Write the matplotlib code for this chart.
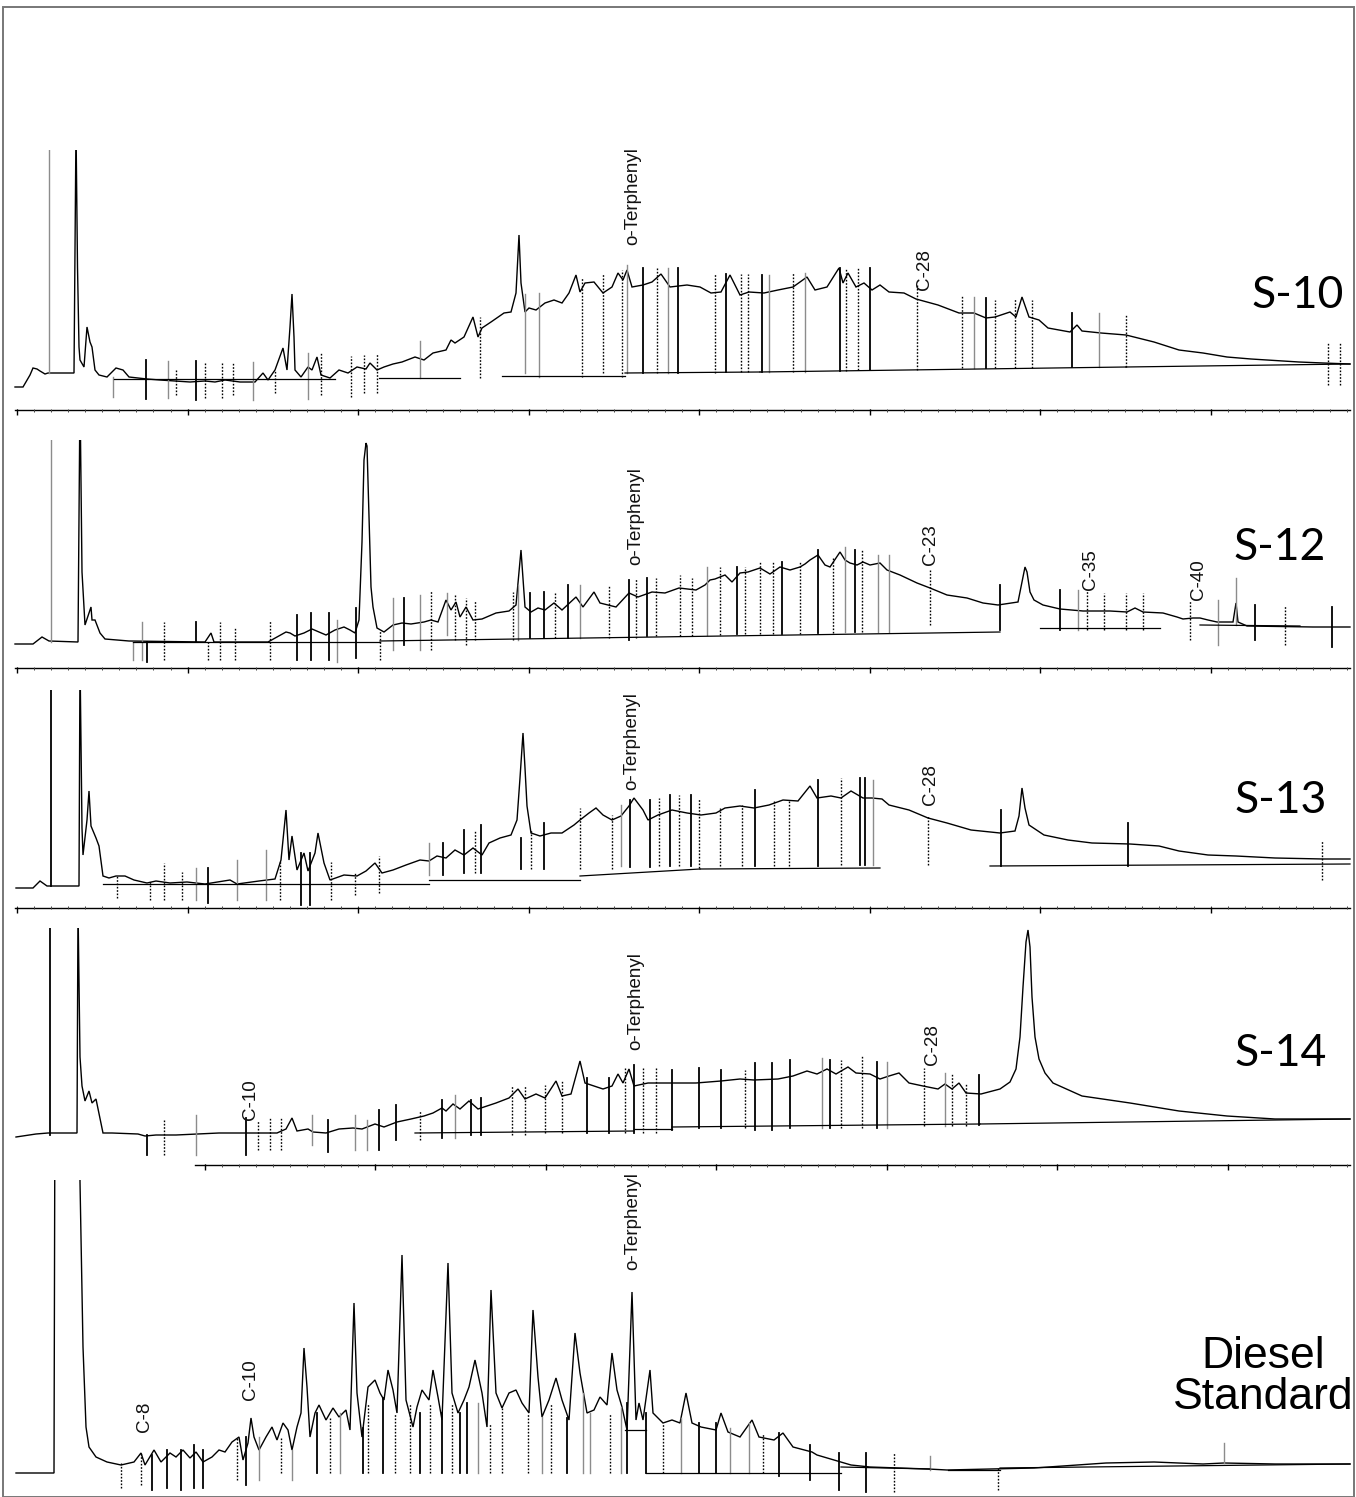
import numpy as np
import matplotlib.pyplot as plt
from matplotlib.patches import Rectangle

# ---- chromatogram traces: (retention position, detector response) ----
s10_trace = [(15, 0), (23, 0), (30, 12), (33, 19), (37, 18), (40, 16), (45, 13), (48, 14), (74, 14),
             (76, 260), (77.5, 120), (79, 40), (80, 27), (84, 20), (87, 60), (90, 45), (92, 40), (95, 17), (99, 12),
             (107, 10), (116, 19), (123, 17), (129, 10), (147, 8), (160, 7), (175, 6), (190, 5), (205, 6),
             (215, 5), (225, 7), (240, 5), (255, 5), (263, 14), (268, 7), (275, 17), (283, 39), (287, 17),
             (290, 60), (292, 93), (294, 50), (295, 17), (301, 10), (308, 20), (312, 17), (317, 30), (321, 12), (330, 9), (339, 17),
             (348, 14), (357, 20), (366, 18), (370, 24), (377, 17), (384, 20), (393, 23), (402, 25), (415, 30),
             (424, 27), (433, 34), (446, 37), (451, 47), (455, 44), (464, 50), (473, 70), (478, 50), (482, 59),
             (491, 65), (504, 74), (511, 75), (516, 94), (519, 152), (521, 104), (525, 75), (529, 79),
             (536, 77), (545, 84), (554, 87), (562, 84), (569, 94), (576, 112), (580, 95), (585, 104),
             (594, 105), (603, 94), (612, 100), (618, 114), (623, 107), (627, 117), (632, 100), (643, 102),
             (652, 105), (661, 113), (670, 100), (687, 102), (700, 100), (711, 94), (721, 95), (730, 112),
             (740, 92), (749, 95), (764, 94), (778, 97), (793, 100), (807, 110), (815, 97), (827, 100),
             (839, 119), (843, 104), (848, 114), (856, 100), (864, 104), (872, 97), (880, 102), (889, 95),
             (904, 94), (916, 88), (938, 82), (959, 74), (974, 74), (986, 69), (995, 70), (1010, 75),
             (1016, 70), (1022, 90), (1029, 70), (1039, 67), (1048, 59), (1070, 55), (1077, 62), (1082, 56),
             (1101, 54), (1126, 52), (1154, 45), (1179, 37), (1203, 34), (1227, 30), (1251, 28), (1299, 25),
             (1323, 24), (1350, 23)]

s12_trace = [(15, -2), (33, -2), (42, 5), (49, 1), (78, 0), (80, 250), (82, 70), (85, 17), (91, 35),
             (92, 22), (95, 22), (100, 9), (105, 3), (129, 1), (205, 0), (211, 9), (214, 0), (268, 0),
             (277, 5), (286, 10), (290, 9), (295, 6), (304, 9), (312, 13), (319, 10), (326, 7), (335, 12),
             (344, 15), (350, 12), (355, 9), (359, 22), (362, 100), (364, 182), (366, 199), (367, 196),
             (369, 125), (371, 55), (373, 35),
             (377, 14), (384, 10), (393, 17), (402, 19), (411, 18), (424, 20), (431, 22), (438, 20),
             (446, 42), (451, 32), (456, 40), (460, 25), (466, 35), (473, 22), (482, 23), (496, 29),
             (509, 31), (516, 37), (521, 92), (525, 35), (531, 30), (538, 34), (545, 32), (554, 39),
             (562, 32), (576, 45), (583, 35), (594, 50), (600, 39), (616, 35), (629, 49), (638, 45),
             (652, 50), (665, 49), (679, 54), (696, 52), (705, 57), (710, 62), (715, 63), (725, 67),
             (732, 60), (740, 69), (748, 70), (760, 74), (770, 68), (780, 75), (790, 72), (800, 75),
             (805, 78), (810, 82), (818, 87), (825, 77), (830, 75), (840, 90), (845, 82), (850, 79),
             (857, 77), (863, 80), (870, 77), (880, 79), (887, 72), (900, 67), (917, 59), (930, 54),
             (947, 47), (967, 44), (983, 39), (998, 37), (1018, 40), (1022, 60), (1025, 75), (1027, 70),
             (1030, 50), (1034, 42),
             (1043, 37), (1060, 33), (1083, 31), (1110, 31), (1127, 30), (1135, 34), (1143, 30),
             (1163, 29), (1177, 25), (1183, 23), (1193, 24), (1200, 24), (1208, 22), (1217, 20),
             (1233, 20), (1236, 39), (1238, 20), (1247, 16), (1313, 15), (1350, 15)]

s13_trace = [(16, 0), (33, 0), (40, 7), (47, 2), (79, 2), (80, 230), (82, 60), (83, 33), (87, 68),
             (89, 97), (91, 62), (96, 50), (99, 42), (103, 12), (109, 10), (116, 12), (125, 12), (134, 8),
             (147, 5), (156, 7), (170, 5), (187, 6), (205, 4), (230, 8), (237, 4), (259, 7), (275, 9),
             (281, 28), (286, 78), (289, 28), (292, 52), (297, 18), (304, 35), (308, 17), (315, 35),
             (318, 55), (324, 25), (330, 8), (344, 13), (357, 12), (366, 17), (375, 25), (382, 15),
             (393, 18), (406, 23), (420, 28), (429, 27), (437, 32), (446, 30), (455, 38), (464, 33),
             (473, 40), (482, 33), (489, 45), (500, 50), (511, 53), (517, 68), (520, 110), (523, 155),
             (525, 120), (527, 82),
             (531, 55), (540, 52), (551, 55), (562, 55), (574, 63), (580, 68), (589, 75), (596, 80),
             (603, 73), (612, 68), (621, 72), (629, 82), (634, 90), (643, 78), (648, 68), (658, 73),
             (672, 78), (687, 75), (701, 73), (716, 75), (725, 80), (740, 82), (754, 80), (769, 83),
             (783, 88), (798, 87), (810, 102), (817, 90), (831, 92), (841, 90), (851, 97), (863, 90),
             (872, 90), (882, 89), (889, 83), (909, 78), (928, 70), (947, 65), (971, 58), (1000, 55),
             (1015, 57), (1019, 72), (1022, 100), (1025, 80), (1029, 63), (1044, 53), (1068, 48),
             (1092, 45), (1130, 44),
             (1159, 42), (1179, 37), (1208, 33), (1236, 32), (1275, 30), (1323, 29), (1350, 29)]

s14_trace = [(16, 0), (36, 3), (48, 4), (77, 4), (78, 230), (80, 80), (82, 51), (85, 36), (89, 46),
             (92, 34), (96, 38), (103, 4), (112, 4), (138, 3), (145, 1), (156, 2), (176, 2), (219, 4),
             (268, 4), (277, 4), (286, 8), (292, 19), (297, 6), (308, 8), (313, 5), (326, 4), (339, 8),
             (353, 9), (362, 8), (375, 13), (384, 10), (397, 15), (411, 18), (424, 21), (433, 24),
             (442, 29), (446, 26), (453, 33), (460, 28), (469, 36), (478, 28), (487, 31), (496, 34),
             (509, 39), (518, 48), (525, 38), (536, 43), (545, 39), (556, 56), (562, 41), (571, 43),
             (580, 76), (585, 54), (594, 51), (603, 48), (612, 51), (618, 63), (623, 54), (629, 68),
             (634, 51), (648, 54), (672, 54), (696, 54), (721, 56), (740, 58), (754, 57), (778, 58),
             (793, 61), (807, 66), (817, 63), (827, 68), (836, 63), (848, 70), (856, 64), (870, 63),
             (880, 58), (889, 61), (899, 64), (909, 54), (923, 51), (938, 48), (945, 53), (952, 48),
             (959, 54), (966, 44), (981, 43), (1000, 48), (1010, 55), (1016, 68), (1020, 100),
             (1023, 150), (1026, 195), (1028, 207), (1030, 190), (1032, 140), (1035, 100), (1039, 78),
             (1045, 64), (1053, 54), (1082, 41), (1130, 34), (1179, 26), (1227, 21),
             (1275, 18), (1350, 18)]

diesel_trace = [(16, 0), (54, 0), (55, 400), (79, 400), (80, 291), (83, 126), (86, 46), (89, 26), (96, 16),
                (107, 11), (121, 8), (134, 11), (141, 20), (145, 8), (154, 23), (161, 11), (170, 20),
                (176, 16), (183, 23), (190, 15), (196, 21), (203, 11), (212, 16), (219, 23), (225, 21),
                (232, 31), (239, 36), (243, 13), (248, 30), (251, 55), (254, 36), (259, 23), (266, 36),
                (272, 46), (277, 33), (283, 50), (288, 43), (292, 23), (297, 46), (301, 60), (304, 125),
                (307, 86), (310, 36), (315, 60), (319, 68), (326, 53), (333, 65), (339, 56), (346, 63),
                (350, 43), (354, 170), (357, 80), (362, 36), (368, 86), (375, 93), (380, 80), (384, 73),
                (388, 103), (393, 83), (397, 60), (402, 218), (406, 73), (413, 46), (417, 66), (422, 83),
                (429, 73), (433, 103), (438, 76), (442, 53), (448, 210), (452, 80), (458, 60), (464, 73),
                (469, 86), (475, 113), (482, 80), (487, 46), (491, 183), (496, 80), (502, 65), (509, 80),
                (516, 83), (522, 70), (529, 60), (533, 163), (538, 96), (542, 56), (549, 73), (556, 95),
                (562, 73), (569, 53), (575, 140), (580, 100), (587, 60), (594, 63), (600, 76), (607, 68),
                (612, 120), (617, 83), (622, 66), (627, 43), (632, 181), (636, 53), (639, 70), (643, 53),
                (650, 103), (653, 60), (663, 50), (672, 53), (680, 50), (686, 80), (692, 50), (701, 46),
                (716, 43), (721, 60), (728, 41), (740, 36), (752, 53), (759, 36), (774, 33), (783, 40),
                (793, 26), (812, 21), (817, 18), (841, 11), (851, 8), (870, 6), (928, 4), (947, 3),
                (1034, 5), (1106, 10), (1154, 11), (1203, 9), (1224, 10), (1275, 9), (1350, 9)]

# ---- integration event marks: (position, top, bottom, style) ----
s10_marks = [(49, 237, 14, 'g'), (113, 10, -10, 'g'), (146, 27, -12, 'k'), (168, 26, -11, 'g'),
             (176, 17, -8, ':'), (196, 26, -13, 'k'), (205, 24, -11, ':'), (222, 25, -11, ':'),
             (233, 24, -8, ':'), (253, 25, -13, 'g'), (275, 17, -6, ':'), (308, 34, -12, 'g'),
             (321, 35, -8, ':'), (351, 31, -10, ':'), (364, 32, -6, ':'), (377, 34, -6, ':'),
             (420, 46, 9, 'g'), (480, 70, 9, ':'), (525, 93, 14, 'g'), (539, 94, 10, 'g'),
             (582, 109, 10, ':'), (603, 114, 14, ':'), (622, 117, 10, ':'), (627, 122, 14, 'g'),
             (643, 119, 14, 'k'), (657, 119, 14, ':'), (668, 119, 14, 'g'), (678, 119, 14, 'k'),
             (715, 113, 14, ':'), (726, 113, 15, 'k'), (741, 113, 15, ':'), (748, 113, 15, ':'),
             (762, 112, 15, 'k'), (769, 112, 15, 'g'), (793, 114, 15, ':'), (805, 114, 15, 'g'),
             (840, 119, 16, 'k'), (846, 119, 16, ':'), (858, 119, 17, ':'), (870, 119, 17, 'k'),
             (917, 102, 17, ':'), (962, 92, 19, ':'), (974, 90, 19, 'g'), (986, 89, 19, 'k'),
             (995, 87, 19, ':'), (1015, 89, 19, ':'), (1032, 87, 19, ':'), (1072, 74, 20, 'k'),
             (1099, 74, 20, 'g'), (1126, 72, 20, ':'), (1328, 44, 2, ':'), (1340, 44, 2, ':')]

s12_marks = [(51, 202, 0, 'g'), (133, 0, -18, 'g'), (142, 20, -18, 'g'), (147, 0, -20, 'k'),
             (164, 20, -18, ':'), (196, 20, 0, 'k'), (208, 0, -18, ':'), (220, 20, -18, ':'),
             (235, 14, -18, ':'), (270, 22, -18, ':'), (297, 27, -18, 'k'), (311, 29, -18, 'k'),
             (329, 29, -18, 'k'), (337, 22, -20, 'g'), (356, 34, -16, 'k'), (380, 12, -18, ':'),
             (393, 44, -8, 'g'), (404, 44, -3, 'k'), (420, 47, -8, 'g'), (431, 52, -8, ':'),
             (447, 49, 7, 'g'), (455, 47, 2, ':'), (466, 44, -3, ':'), (475, 42, 2, ':'),
             (513, 50, 2, ':'), (518, 57, 2, 'g'), (530, 49, 4, 'k'), (544, 50, 4, 'k'),
             (555, 50, 4, ':'), (568, 57, 4, 'k'), (580, 57, 4, 'g'), (609, 57, 4, ':'),
             (629, 62, 2, 'k'), (636, 64, 4, ':'), (647, 64, 6, 'k'), (656, 64, 6, ':'),
             (680, 67, 6, ':'), (692, 64, 6, ':'), (707, 75, 7, 'g'), (720, 75, 7, ':'),
             (737, 75, 8, 'k'), (745, 75, 8, ':'), (760, 80, 8, ':'), (773, 80, 8, ':'),
             (782, 80, 8, 'k'), (800, 80, 8, ':'), (818, 92, 9, 'k'), (833, 85, 9, ':'),
             (845, 95, 10, 'g'), (855, 92, 10, 'k'), (862, 92, 10, ':'), (878, 87, 10, 'g'),
             (889, 87, 10, 'g'), (930, 72, 17, ':'), (1000, 57, 12, 'k'), (1060, 52, 12, 'k'),
             (1078, 52, 12, 'g'), (1087, 52, 12, ':'), (1104, 49, 12, ':'), (1126, 49, 12, ':'),
             (1143, 49, 12, ':'), (1190, 42, 2, ':'), (1218, 42, -3, 'g'), (1236, 64, 17, 'g'),
             (1255, 37, 2, 'k'), (1285, 37, -3, ':'), (1332, 35, -5, 'k')]

s13_marks = [(51, 198, 2, 'k'), (117, 12, -10, ':'), (150, 8, -12, ':'), (164, 25, -12, ':'),
             (182, 16, -12, ':'), (196, 20, -12, 'g'), (208, 20, -15, 'k'), (237, 28, -12, 'g'),
             (266, 38, -12, 'g'), (280, 28, -12, ':'), (301, 35, -17, 'k'), (310, 35, -17, 'k'),
             (331, 26, -12, ':'), (355, 16, -7, ':'), (379, 32, -5, ':'), (429, 45, 13, 'g'),
             (443, 45, 13, 'k'), (464, 58, 15, 'k'), (475, 58, 15, ':'), (481, 63, 15, 'k'),
             (521, 50, 19, 'k'), (531, 58, 19, ':'), (544, 65, 19, 'k'), (580, 80, 19, ':'),
             (612, 73, 19, ':'), (621, 83, 22, 'g'), (630, 88, 21, 'k'), (650, 88, 21, 'k'),
             (659, 90, 22, ':'), (670, 93, 22, 'k'), (679, 93, 22, ':'), (691, 93, 22, 'k'),
             (699, 90, 20, ':'), (720, 80, 22, ':'), (742, 83, 22, ':'), (755, 98, 22, 'k'),
             (774, 88, 22, ':'), (789, 88, 22, ':'), (818, 108, 22, 'k'), (841, 110, 23, ':'),
             (860, 110, 23, 'k'), (865, 110, 23, 'k'), (873, 108, 23, 'g'), (928, 73, 23, ':'),
             (1001, 78, 22, 'k'), (1128, 65, 22, 'k'), (1322, 48, 8, ':')]

s14_marks = [(50, 209, 2, 'k'), (147, 2, -18, 'k'), (164, 17, -18, ':'), (196, 22, -18, 'g'),
             (246, 19, -18, 'k'), (258, 17, -13, ':'), (270, 20, -13, ':'), (281, 19, -13, ':'),
             (312, 22, -8, 'g'), (328, 17, -15, 'k'), (355, 22, -13, 'g'), (367, 17, -13, 'g'),
             (379, 27, -13, 'k'), (396, 32, -3, 'k'), (420, 27, -3, ':'), (442, 37, -1, 'k'),
             (455, 42, -1, 'g'), (471, 37, 2, 'k'), (481, 39, 2, 'k'), (512, 52, 2, ':'),
             (525, 52, 2, ':'), (545, 52, 4, ':'), (562, 57, 4, ':'), (587, 59, 4, 'k'),
             (609, 59, 4, 'k'), (625, 69, 4, ':'), (634, 72, 4, 'k'), (643, 69, 4, ':'),
             (656, 69, 4, ':'), (672, 67, 7, 'k'), (699, 69, 9, 'k'), (721, 67, 9, 'k'),
             (745, 67, 9, ':'), (755, 74, 7, 'k'), (772, 74, 7, 'k'), (790, 77, 9, 'k'),
             (822, 79, 9, 'g'), (830, 77, 9, 'k'), (841, 77, 9, ':'), (862, 81, 9, ':'),
             (877, 75, 9, 'k'), (887, 75, 9, 'g'), (924, 69, 11, ':'), (945, 64, 11, 'g'),
             (952, 64, 11, ':'), (966, 54, 11, ':'), (979, 62, 12, 'k')]

diesel_marks = [(121, 11, -15, ':'), (141, 20, -12, ':'), (152, 18, -17, 'k'), (167, 23, -15, 'k'),
                (181, 23, -17, 'k'), (194, 28, -15, 'k'), (203, 23, -15, 'k'), (237, 36, -7, ':'),
                (246, 36, -12, 'k'), (259, 36, -7, 'g'), (281, 36, 0, ':'), (292, 23, -7, 'g'),
                (317, 60, 0, 'k'), (330, 55, 0, ':'), (340, 60, 0, 'g'), (363, 45, 0, 'k'),
                (368, 70, 0, ':'), (383, 75, 0, 'k'), (395, 60, 0, ':'), (410, 70, 0, ':'),
                (420, 60, 0, 'k'), (430, 70, 0, ':'), (442, 60, 0, 'k'), (452, 70, 0, ':'),
                (460, 60, 0, 'k'), (467, 70, 0, 'k'), (478, 70, 0, 'g'), (490, 50, 0, ':'),
                (502, 65, 0, ':'), (528, 60, 0, ':'), (542, 56, 0, 'g'), (551, 70, 0, ':'),
                (567, 55, 0, 'k'), (583, 80, 0, 'g'), (590, 60, 0, 'g'), (610, 60, 0, ':'),
                (621, 66, 0, 'g'), (627, 70, 0, 'k'), (646, 60, 0, 'k'), (663, 50, 0, ':'),
                (681, 55, 0, 'g'), (699, 50, 0, 'k'), (716, 50, 0, 'k'), (730, 45, 0, 'g'),
                (749, 50, 0, 'g'), (763, 40, 0, ':'), (779, 40, -3, 'k'), (810, 28, -7, 'k'),
                (839, 20, -17, 'k'), (866, 20, -19, 'k'), (894, 20, -19, ':'), (930, 17, 3, 'g'),
                (998, 6, -17, ':'), (1224, 30, 10, 'g')]

# ---- drawn baselines under the peaks: (start, end, response at start, response at end) ----
s10_base = [(114, 335, 8, 8), (379, 460, 9, 9), (502, 625, 11, 11), (625, 760, 14, 15),
            (760, 1126, 15, 20), (1126, 1350, 20, 23)]
s12_base = [(133, 380, 0, 0), (380, 1000, 1, 10), (1040, 1160, 14, 14), (1200, 1300, 17, 16)]
s13_base = [(103, 429, 4, 4), (429, 580, 8, 8), (580, 700, 12, 19), (700, 880, 19, 20),
            (990, 1350, 22, 24)]
s14_base = [(415, 634, 4, 6), (634, 672, 8, 8), (672, 980, 10, 13), (980, 1350, 13, 18)]
diesel_base = [(646, 841, 0, 0), (625, 646, 43, 43), (841, 930, 6, 4), (948, 1000, 3, 3),
               (1000, 1350, 5, 9)]

# ---- peak annotations: (text, position, response at text foot) ----
s10_labels = [("o-Terphenyl", 633, 142), ("C-28", 925, 97)]
s12_labels = [("o-Terphenyl", 636, 77), ("C-23", 930, 77), ("C-35", 1090, 52), ("C-40", 1198, 42)]
s13_labels = [("o-Terphenyl", 632, 98), ("C-28", 930, 83)]
s14_labels = [("C-10", 250, 17), ("o-Terphenyl", 636, 87), ("C-28", 932, 72)]
diesel_labels = [("C-8", 145, 41), ("C-10", 250, 73), ("o-Terphenyl", 633, 203)]

sample_names = ["S-10", "S-12", "S-13", "S-14", "Diesel\nStandard"]

W, H = 1356, 1497
fig = plt.figure(figsize=(W / 100, H / 100), dpi=100)
fig.add_artist(Rectangle((3 / W, 0), 1 - 5 / W, 1 - 7 / H, transform=fig.transFigure,
                         fill=False, edgecolor='#777777', lw=1.4))

# panel layout: pixel top, pixel bottom, y limits, time-axis level, axis start, name position
panels = [
    (s10_trace, s10_marks, s10_base, s10_labels, 150, 418, (-31, 237), -23, 15, (1298, 91)),
    (s12_trace, s12_marks, s12_base, s12_labels, 440, 675, (-33, 202), -26, 15, (1280, 94)),
    (s13_trace, s13_marks, s13_base, s13_labels, 690, 915, (-27, 198), -20, 15, (1281, 87)),
    (s14_trace, s14_marks, s14_base, s14_labels, 928, 1172, (-35, 209), -28, 195, (1281, 84)),
    (diesel_trace, diesel_marks, diesel_base, diesel_labels, 1180, 1497, (-24, 293), None, 0, (1263, 96)),
]

styles = {
    'k': dict(color='black', lw=1.3, linestyle='-'),
    'g': dict(color='#8c8c8c', lw=1.0, linestyle='-'),
    ':': dict(color='black', lw=1.0, linestyle=(0, (1.2, 1.2))),
}

for i, (trace, marks, base, labels, top, bot, ylim, axis_y, axis_x0, name_xy) in enumerate(panels):
    ax = fig.add_axes([0, 1 - bot / H, 1, (bot - top) / H])
    ax.set_xlim(0, W)
    ax.set_ylim(*ylim)
    ax.axis('off')

    rt, resp = np.array(trace, dtype=float).T
    ax.plot(rt, resp, color='black', lw=1.0, solid_joinstyle='miter')

    for x, y0, y1, st in marks:
        ax.plot([x, x], [y1, y0], **styles[st])

    for x0, x1, y0, y1 in base:
        ax.plot([x0, x1], [y0, y1], color='black', lw=0.9)

    for txt, x, y in labels:
        ax.text(x, y, txt, rotation=90, ha='center', va='bottom', fontsize=13.5,
                family='Liberation Sans', color='#111111')

    if axis_y is not None:
        ax.plot([axis_x0, 1350], [axis_y, axis_y], color='black', lw=1.0)
        ticks = np.arange(0, 1350, 17.05)
        ticks = ticks[ticks >= axis_x0]
        ax.vlines(ticks, axis_y - 1.5, axis_y + 1.5, color='#444444', lw=0.7)
        major = ticks[::10]
        ax.vlines(major, axis_y - 5, axis_y + 1, color='black', lw=1.0)

    name = sample_names[i]
    if '\n' in name:
        ax.text(name_xy[0], name_xy[1], name, ha='center', va='center', fontsize=32,
                family='Liberation Sans', linespacing=1.0)
    else:
        ax.text(name_xy[0], name_xy[1], name, ha='center', va='center', fontsize=32,
                family='Lato')

fig.savefig('out.png', dpi=100)
